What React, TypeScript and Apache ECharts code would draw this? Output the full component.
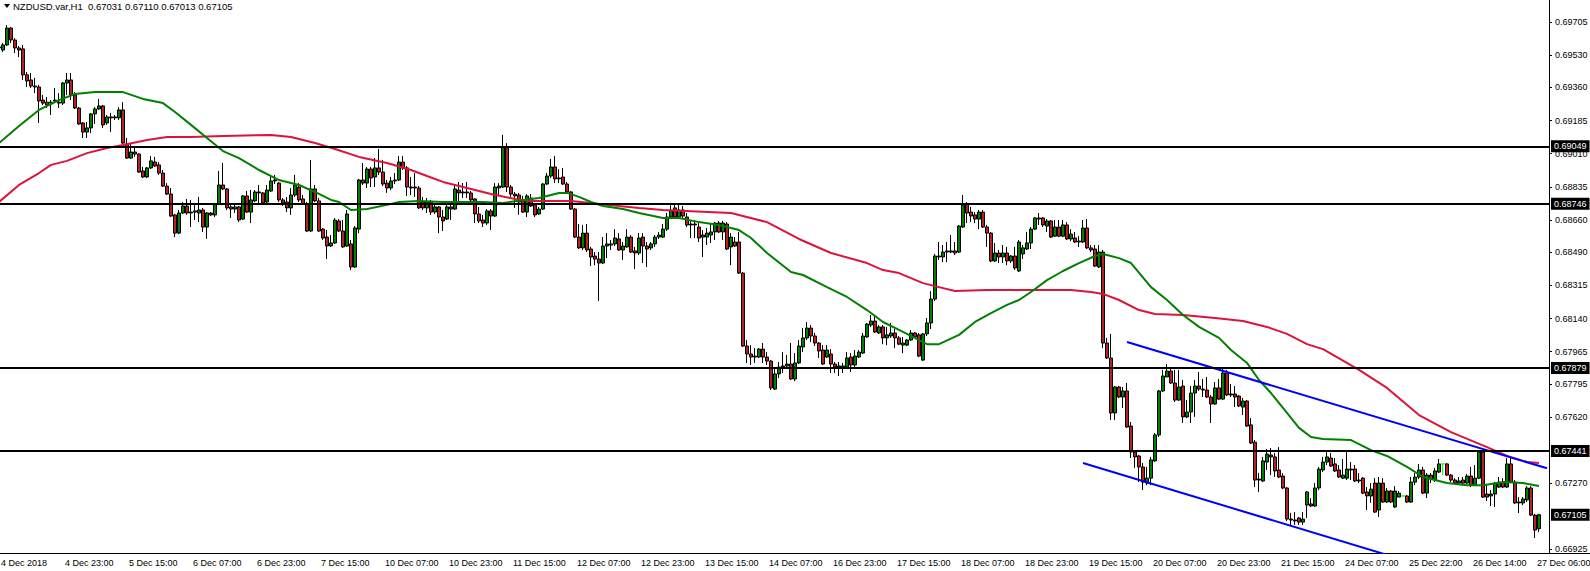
import React, { useEffect, useRef } from 'react';
import * as echarts from 'echarts';

// ---- Chart header ----
const chartTitle = 'NZDUSD.var,H1  0.67031 0.67110 0.67013 0.67105';

// ---- X tick labels (one every 16 hourly bars) ----
const timeLabels = [
  '4 Dec 2018', '4 Dec 23:00', '5 Dec 15:00', '6 Dec 07:00', '6 Dec 23:00', '7 Dec 15:00',
  '10 Dec 07:00', '10 Dec 23:00', '11 Dec 15:00', '12 Dec 07:00', '12 Dec 23:00', '13 Dec 15:00',
  '14 Dec 07:00', '16 Dec 23:00', '17 Dec 15:00', '18 Dec 07:00', '18 Dec 23:00', '19 Dec 15:00',
  '20 Dec 07:00', '20 Dec 23:00', '21 Dec 15:00', '24 Dec 07:00', '25 Dec 22:00', '26 Dec 14:00',
  '27 Dec 06:00',
];

// ---- Y tick labels ----
const priceTicks = [
  0.69705, 0.6953, 0.6936, 0.69185, 0.6901, 0.68835, 0.6866, 0.6849, 0.68315,
  0.6814, 0.67965, 0.67795, 0.6762, 0.6727, 0.66925,
];
const yMin = 0.66903;
const yMax = 0.69821;

// ---- Candles [open, close, low, high] ----
const candlesA = [
  [0.69568,0.69573,0.69557,0.69584],[0.69557,0.69584,0.69546,0.69594],[0.69584,0.69673,0.69578,0.69689],[0.69673,0.69610,0.69594,0.69678],
  [0.69610,0.69568,0.69541,0.69620],[0.69568,0.69557,0.69520,0.69578],[0.69563,0.69426,0.69399,0.69584],[0.69426,0.69394,0.69362,0.69441],
  [0.69399,0.69367,0.69357,0.69436],[0.69367,0.69362,0.69330,0.69410],[0.69362,0.69288,0.69172,0.69373],[0.69293,0.69277,0.69267,0.69320],
  [0.69282,0.69267,0.69251,0.69309],[0.69277,0.69282,0.69214,0.69293],[0.69288,0.69293,0.69277,0.69357],[0.69282,0.69277,0.69251,0.69330],
  [0.69277,0.69383,0.69267,0.69388],[0.69383,0.69399,0.69320,0.69436],[0.69399,0.69320,0.69293,0.69436],[0.69320,0.69251,0.69246,0.69335],
  [0.69251,0.69167,0.69162,0.69256],[0.69172,0.69124,0.69093,0.69177],[0.69124,0.69146,0.69093,0.69177],[0.69146,0.69220,0.69119,0.69225],
  [0.69220,0.69246,0.69167,0.69256],[0.69246,0.69262,0.69241,0.69299],[0.69262,0.69162,0.69146,0.69267],[0.69172,0.69204,0.69162,0.69214],
  [0.69204,0.69199,0.69124,0.69225],[0.69199,0.69204,0.69188,0.69214],[0.69199,0.69241,0.69188,0.69256],[0.69241,0.69066,0.69061,0.69282],
  [0.69061,0.68987,0.68982,0.69093],[0.68987,0.69019,0.68982,0.69066],[0.69019,0.69008,0.68993,0.69040],[0.69008,0.68913,0.68908,0.69013],
  [0.68919,0.68887,0.68882,0.68940],[0.68887,0.68935,0.68882,0.68940],[0.68935,0.68972,0.68929,0.68998],[0.68966,0.68945,0.68940,0.68993],
  [0.68951,0.68908,0.68898,0.68966],[0.68908,0.68839,0.68834,0.68924],[0.68839,0.68797,0.68792,0.68855],[0.68797,0.68681,0.68676,0.68829],
  [0.68687,0.68591,0.68570,0.68692],[0.68591,0.68697,0.68586,0.68713],[0.68697,0.68734,0.68692,0.68755],[0.68734,0.68697,0.68687,0.68771],
  [0.68697,0.68702,0.68623,0.68766],[0.68702,0.68708,0.68660,0.68740],[0.68697,0.68713,0.68649,0.68782],[0.68713,0.68623,0.68597,0.68724],
  [0.68623,0.68697,0.68560,0.68702],[0.68697,0.68687,0.68681,0.68702],[0.68687,0.68745,0.68676,0.68750],[0.68745,0.68845,0.68740,0.68919],
  [0.68845,0.68824,0.68818,0.68961],[0.68824,0.68724,0.68713,0.68829],[0.68729,0.68718,0.68671,0.68740],[0.68718,0.68729,0.68697,0.68745],
  [0.68729,0.68660,0.68649,0.68734],[0.68665,0.68787,0.68660,0.68792],[0.68787,0.68702,0.68697,0.68813],[0.68702,0.68766,0.68644,0.68818],
];
const candlesB = [
  [0.68761,0.68808,0.68755,0.68818],[0.68808,0.68803,0.68740,0.68845],[0.68803,0.68750,0.68745,0.68808],[0.68755,0.68818,0.68750,0.68845],
  [0.68813,0.68866,0.68808,0.68887],[0.68866,0.68871,0.68850,0.68898],[0.68855,0.68766,0.68755,0.68861],[0.68766,0.68750,0.68734,0.68776],
  [0.68755,0.68724,0.68702,0.68782],[0.68724,0.68792,0.68687,0.68829],[0.68792,0.68845,0.68782,0.68898],[0.68834,0.68766,0.68755,0.68855],
  [0.68771,0.68745,0.68740,0.68792],[0.68745,0.68602,0.68597,0.68755],[0.68602,0.68824,0.68597,0.68977],[0.68824,0.68761,0.68755,0.68845],
  [0.68761,0.68602,0.68597,0.68776],[0.68612,0.68565,0.68555,0.68618],[0.68570,0.68523,0.68454,0.68607],[0.68523,0.68539,0.68518,0.68581],
  [0.68539,0.68660,0.68534,0.68671],[0.68655,0.68602,0.68597,0.68665],[0.68602,0.68518,0.68513,0.68660],[0.68523,0.68692,0.68518,0.68713],
  [0.68534,0.68412,0.68396,0.68555],[0.68412,0.68618,0.68407,0.68628],[0.68612,0.68871,0.68591,0.68877],[0.68871,0.68855,0.68845,0.68961],
  [0.68855,0.68929,0.68829,0.68940],[0.68929,0.68882,0.68834,0.68940],[0.68887,0.68935,0.68834,0.68987],[0.68935,0.68913,0.68898,0.69035],
  [0.68913,0.68850,0.68839,0.68977],[0.68855,0.68829,0.68803,0.68871],[0.68829,0.68866,0.68818,0.68887],[0.68866,0.68871,0.68850,0.68908],
  [0.68871,0.68966,0.68866,0.68998],[0.68966,0.68935,0.68924,0.68998],[0.68935,0.68834,0.68787,0.68945],[0.68834,0.68829,0.68792,0.68887],
  [0.68829,0.68834,0.68782,0.68908],[0.68829,0.68724,0.68718,0.68839],[0.68755,0.68724,0.68713,0.68782],[0.68724,0.68755,0.68697,0.68776],
  [0.68755,0.68702,0.68687,0.68766],[0.68702,0.68729,0.68692,0.68740],[0.68729,0.68676,0.68591,0.68734],[0.68676,0.68655,0.68602,0.68713],
  [0.68665,0.68729,0.68660,0.68750],[0.68729,0.68718,0.68660,0.68740],[0.68718,0.68824,0.68713,0.68845],[0.68818,0.68803,0.68750,0.68861],
  [0.68803,0.68808,0.68776,0.68855],[0.68808,0.68803,0.68776,0.68861],[0.68803,0.68766,0.68755,0.68813],[0.68771,0.68692,0.68644,0.68776],
  [0.68692,0.68655,0.68644,0.68729],[0.68660,0.68644,0.68623,0.68687],[0.68644,0.68708,0.68634,0.68718],[0.68708,0.68681,0.68607,0.68718],
  [0.68681,0.68834,0.68676,0.68855],[0.68829,0.68839,0.68792,0.68855],[0.68834,0.69045,0.68829,0.69109],[0.69045,0.68834,0.68808,0.69066],
];
const candlesC = [
  [0.68834,0.68797,0.68782,0.68845],[0.68797,0.68787,0.68724,0.68808],[0.68792,0.68755,0.68687,0.68803],[0.68766,0.68702,0.68697,0.68787],
  [0.68702,0.68787,0.68676,0.68797],[0.68776,0.68734,0.68729,0.68797],[0.68740,0.68687,0.68676,0.68750],[0.68692,0.68718,0.68687,0.68729],
  [0.68718,0.68850,0.68713,0.68855],[0.68850,0.68892,0.68845,0.68908],[0.68892,0.68940,0.68882,0.68982],[0.68940,0.68877,0.68855,0.68998],
  [0.68877,0.68882,0.68855,0.68929],[0.68887,0.68850,0.68845,0.68935],[0.68850,0.68808,0.68803,0.68861],[0.68808,0.68718,0.68713,0.68813],
  [0.68718,0.68570,0.68565,0.68724],[0.68570,0.68513,0.68507,0.68639],[0.68513,0.68591,0.68502,0.68634],[0.68591,0.68502,0.68491,0.68639],
  [0.68507,0.68465,0.68417,0.68518],[0.68470,0.68454,0.68422,0.68491],[0.68454,0.68433,0.68233,0.68491],[0.68433,0.68523,0.68428,0.68570],
  [0.68523,0.68534,0.68459,0.68591],[0.68534,0.68528,0.68502,0.68555],[0.68534,0.68565,0.68523,0.68612],[0.68560,0.68502,0.68497,0.68591],
  [0.68502,0.68523,0.68449,0.68544],[0.68518,0.68570,0.68513,0.68612],[0.68570,0.68491,0.68486,0.68581],[0.68497,0.68486,0.68401,0.68518],
  [0.68486,0.68565,0.68475,0.68591],[0.68570,0.68523,0.68433,0.68591],[0.68523,0.68507,0.68412,0.68544],[0.68513,0.68534,0.68502,0.68544],
  [0.68534,0.68570,0.68518,0.68581],[0.68570,0.68581,0.68560,0.68597],[0.68570,0.68612,0.68565,0.68639],[0.68612,0.68676,0.68602,0.68697],
  [0.68676,0.68708,0.68671,0.68750],[0.68724,0.68676,0.68671,0.68745],[0.68676,0.68713,0.68671,0.68740],[0.68713,0.68681,0.68671,0.68734],
  [0.68676,0.68634,0.68623,0.68697],[0.68634,0.68639,0.68565,0.68660],[0.68639,0.68634,0.68565,0.68660],[0.68623,0.68565,0.68544,0.68644],
  [0.68570,0.68581,0.68465,0.68607],[0.68570,0.68591,0.68528,0.68618],[0.68581,0.68597,0.68539,0.68644],[0.68597,0.68644,0.68555,0.68649],
  [0.68644,0.68597,0.68591,0.68655],[0.68597,0.68644,0.68555,0.68655],[0.68639,0.68507,0.68502,0.68649],[0.68518,0.68570,0.68422,0.68591],
  [0.68544,0.68523,0.68518,0.68570],[0.68544,0.68380,0.68375,0.68597],[0.68380,0.67995,0.67990,0.68386],[0.67995,0.67953,0.67906,0.68027],
  [0.67953,0.67937,0.67895,0.68000],[0.67937,0.67942,0.67906,0.67984],[0.67937,0.67979,0.67932,0.67984],[0.67979,0.67937,0.67906,0.68011],
];
const candlesD = [
  [0.67937,0.67916,0.67895,0.67963],[0.67916,0.67774,0.67763,0.67921],[0.67768,0.67848,0.67763,0.67884],[0.67848,0.67884,0.67826,0.67911],
  [0.67884,0.67890,0.67853,0.67963],[0.67890,0.67900,0.67879,0.67948],[0.67900,0.67821,0.67816,0.68011],[0.67821,0.67906,0.67810,0.67958],
  [0.67906,0.67995,0.67900,0.68027],[0.67990,0.68038,0.67963,0.68090],[0.68038,0.68090,0.68027,0.68122],[0.68090,0.68048,0.68016,0.68106],
  [0.68048,0.68011,0.67995,0.68064],[0.68011,0.67969,0.67932,0.68016],[0.67974,0.67900,0.67895,0.68000],[0.67937,0.67974,0.67932,0.68000],
  [0.67953,0.67900,0.67853,0.67979],[0.67900,0.67884,0.67853,0.67911],[0.67884,0.67890,0.67837,0.67911],[0.67879,0.67890,0.67853,0.67906],
  [0.67884,0.67932,0.67879,0.67963],[0.67937,0.67895,0.67858,0.67958],[0.67895,0.67942,0.67879,0.67974],[0.67937,0.67963,0.67932,0.67974],
  [0.67958,0.68048,0.67953,0.68064],[0.68043,0.68111,0.68038,0.68117],[0.68106,0.68127,0.68096,0.68159],[0.68127,0.68069,0.68064,0.68153],
  [0.68064,0.68096,0.68059,0.68106],[0.68096,0.68038,0.68005,0.68106],[0.68038,0.68054,0.68000,0.68096],[0.68048,0.68064,0.68038,0.68117],
  [0.68064,0.68038,0.67984,0.68085],[0.68038,0.68005,0.68000,0.68048],[0.68000,0.68011,0.67958,0.68043],[0.68000,0.68027,0.67995,0.68032],
  [0.68027,0.68064,0.68022,0.68080],[0.68064,0.68043,0.68038,0.68069],[0.68054,0.67942,0.67937,0.68064],[0.67921,0.68059,0.67916,0.68064],
  [0.68059,0.68117,0.68048,0.68143],[0.68117,0.68243,0.68085,0.68285],[0.68243,0.68470,0.68233,0.68481],[0.68470,0.68465,0.68449,0.68544],
  [0.68465,0.68491,0.68438,0.68528],[0.68491,0.68497,0.68438,0.68544],[0.68497,0.68491,0.68486,0.68581],[0.68497,0.68486,0.68475,0.68544],
  [0.68491,0.68628,0.68486,0.68634],[0.68623,0.68740,0.68618,0.68792],[0.68745,0.68697,0.68644,0.68755],[0.68702,0.68681,0.68649,0.68729],
  [0.68687,0.68665,0.68644,0.68702],[0.68665,0.68702,0.68612,0.68713],[0.68702,0.68623,0.68618,0.68713],[0.68623,0.68591,0.68518,0.68634],
  [0.68591,0.68444,0.68438,0.68597],[0.68444,0.68486,0.68438,0.68539],[0.68486,0.68465,0.68433,0.68502],[0.68465,0.68486,0.68433,0.68528],
  [0.68486,0.68444,0.68422,0.68518],[0.68444,0.68470,0.68433,0.68475],[0.68470,0.68407,0.68396,0.68518],[0.68391,0.68544,0.68386,0.68555],
];
const candlesE = [
  [0.68481,0.68513,0.68454,0.68528],[0.68507,0.68539,0.68502,0.68597],[0.68539,0.68612,0.68507,0.68623],[0.68612,0.68671,0.68607,0.68676],
  [0.68671,0.68665,0.68634,0.68697],[0.68671,0.68634,0.68623,0.68676],[0.68628,0.68655,0.68597,0.68665],[0.68655,0.68570,0.68565,0.68660],
  [0.68575,0.68623,0.68570,0.68660],[0.68623,0.68575,0.68570,0.68660],[0.68575,0.68634,0.68570,0.68660],[0.68634,0.68560,0.68555,0.68649],
  [0.68560,0.68586,0.68549,0.68612],[0.68565,0.68544,0.68539,0.68597],[0.68544,0.68549,0.68518,0.68575],[0.68544,0.68618,0.68539,0.68660],
  [0.68618,0.68513,0.68507,0.68665],[0.68513,0.68502,0.68491,0.68528],[0.68507,0.68417,0.68412,0.68528],[0.68412,0.68491,0.68407,0.68528],
  [0.68491,0.68011,0.67984,0.68502],[0.68011,0.67932,0.67927,0.68038],[0.67932,0.67642,0.67605,0.68059],[0.67642,0.67779,0.67605,0.67784],
  [0.67779,0.67726,0.67721,0.67784],[0.67726,0.67758,0.67668,0.67779],[0.67758,0.67568,0.67563,0.67800],[0.67573,0.67436,0.67404,0.67594],
  [0.67436,0.67410,0.67352,0.67446],[0.67415,0.67357,0.67277,0.67420],[0.67357,0.67277,0.67235,0.67378],[0.67272,0.67298,0.67261,0.67357],
  [0.67298,0.67394,0.67261,0.67410],[0.67389,0.67526,0.67383,0.67536],[0.67526,0.67758,0.67515,0.67763],[0.67758,0.67837,0.67752,0.67869],
  [0.67832,0.67863,0.67832,0.67900],[0.67863,0.67800,0.67795,0.67884],[0.67800,0.67710,0.67700,0.67869],[0.67710,0.67779,0.67705,0.67869],
  [0.67784,0.67621,0.67589,0.67816],[0.67621,0.67647,0.67615,0.67710],[0.67647,0.67747,0.67589,0.67784],[0.67747,0.67784,0.67621,0.67816],
  [0.67784,0.67768,0.67758,0.67858],[0.67768,0.67763,0.67726,0.67821],[0.67763,0.67726,0.67721,0.67832],[0.67726,0.67689,0.67589,0.67737],
  [0.67689,0.67774,0.67684,0.67805],[0.67774,0.67715,0.67710,0.67821],[0.67715,0.67853,0.67710,0.67874],[0.67853,0.67737,0.67731,0.67869],
  [0.67737,0.67742,0.67726,0.67795],[0.67742,0.67726,0.67673,0.67784],[0.67731,0.67679,0.67673,0.67737],[0.67673,0.67705,0.67631,0.67721],
  [0.67705,0.67573,0.67568,0.67710],[0.67579,0.67483,0.67478,0.67615],[0.67488,0.67288,0.67251,0.67499],[0.67288,0.67293,0.67225,0.67325],
  [0.67283,0.67389,0.67277,0.67410],[0.67383,0.67425,0.67341,0.67452],[0.67420,0.67410,0.67314,0.67457],[0.67410,0.67336,0.67304,0.67431],
];
const candlesF = [
  [0.67341,0.67304,0.67298,0.67462],[0.67309,0.67246,0.67240,0.67325],[0.67246,0.67082,0.67072,0.67251],[0.67082,0.67077,0.67051,0.67114],
  [0.67077,0.67072,0.67051,0.67119],[0.67088,0.67066,0.67051,0.67093],[0.67066,0.67082,0.67051,0.67119],[0.67156,0.67225,0.67088,0.67230],
  [0.67162,0.67151,0.67146,0.67193],[0.67151,0.67246,0.67146,0.67272],[0.67246,0.67346,0.67235,0.67357],[0.67341,0.67383,0.67330,0.67410],
  [0.67383,0.67410,0.67367,0.67436],[0.67404,0.67362,0.67357,0.67431],[0.67373,0.67336,0.67330,0.67404],[0.67341,0.67304,0.67298,0.67367],
  [0.67298,0.67314,0.67293,0.67399],[0.67298,0.67346,0.67288,0.67436],[0.67346,0.67341,0.67288,0.67383],[0.67346,0.67283,0.67277,0.67367],
  [0.67288,0.67283,0.67272,0.67325],[0.67298,0.67219,0.67214,0.67304],[0.67225,0.67204,0.67130,0.67251],[0.67204,0.67240,0.67167,0.67272],
  [0.67272,0.67119,0.67114,0.67298],[0.67130,0.67272,0.67093,0.67304],[0.67272,0.67172,0.67167,0.67298],[0.67172,0.67230,0.67167,0.67246],
  [0.67230,0.67172,0.67167,0.67235],[0.67146,0.67230,0.67140,0.67256],[0.67198,0.67219,0.67198,0.67230],[0.67204,0.67204,0.67204,0.67204],
  [0.67204,0.67172,0.67167,0.67209],[0.67172,0.67277,0.67167,0.67304],[0.67277,0.67304,0.67261,0.67325],[0.67304,0.67341,0.67293,0.67373],
  [0.67341,0.67219,0.67214,0.67357],[0.67219,0.67314,0.67193,0.67325],[0.67314,0.67293,0.67272,0.67325],[0.67288,0.67336,0.67277,0.67352],
  [0.67330,0.67373,0.67325,0.67399],[0.67373,0.67373,0.67314,0.67373],[0.67373,0.67314,0.67309,0.67378],[0.67314,0.67288,0.67277,0.67320],
  [0.67288,0.67272,0.67267,0.67298],[0.67272,0.67283,0.67267,0.67304],[0.67288,0.67272,0.67267,0.67304],[0.67272,0.67309,0.67267,0.67320],
  [0.67309,0.67261,0.67251,0.67357],[0.67261,0.67298,0.67256,0.67367],[0.67298,0.67436,0.67293,0.67446],[0.67436,0.67198,0.67193,0.67446],
  [0.67214,0.67198,0.67177,0.67261],[0.67204,0.67214,0.67151,0.67235],[0.67214,0.67272,0.67146,0.67277],[0.67251,0.67277,0.67246,0.67304],
  [0.67277,0.67251,0.67246,0.67298],[0.67251,0.67373,0.67246,0.67404],[0.67373,0.67277,0.67272,0.67404],[0.67277,0.67167,0.67162,0.67288],
  [0.67167,0.67172,0.67114,0.67198],[0.67167,0.67188,0.67156,0.67198],[0.67183,0.67246,0.67172,0.67256],[0.67246,0.67103,0.67098,0.67256],
  [0.67103,0.67024,0.66982,0.67109],[0.67031,0.67105,0.67013,0.67110],
];

// ---- Moving averages [barIndex, price] ----
const maGreen = [
  [0,0.69066],[5,0.69156],[10,0.69241],[15,0.69293],[19,0.69325],[24,0.69335],[31,0.69335],[36,0.69299],[41,0.69277],
  [44,0.69230],[48,0.69162],[52,0.69093],[56,0.69024],[60,0.68987],[65,0.68924],[70,0.68871],[75,0.68845],[79,0.68808],
  [83,0.68766],[85,0.68755],[88,0.68713],[92,0.68718],[97,0.68740],[100,0.68755],[105,0.68761],[111,0.68755],[121,0.68755],
  [126,0.68750],[131,0.68766],[135,0.68776],[138,0.68792],[140,0.68803],[142,0.68803],[145,0.68782],[148,0.68755],[151,0.68734],
  [156,0.68718],[160,0.68697],[166,0.68671],[170,0.68671],[175,0.68649],[180,0.68634],[185,0.68607],[188,0.68565],[192,0.68486],
  [198,0.68386],[201,0.68370],[207,0.68306],[212,0.68254],[217,0.68185],[221,0.68122],[225,0.68080],[232,0.68005],[235,0.68005],
  [240,0.68054],[244,0.68122],[248,0.68169],[252,0.68212],[255,0.68238],[258,0.68280],[262,0.68343],[266,0.68391],[270,0.68433],
  [274,0.68470],[276,0.68481],[280,0.68459],[283,0.68433],[288,0.68306],[292,0.68238],[296,0.68159],[300,0.68096],[305,0.68038],
  [308,0.67974],[312,0.67906],[315,0.67816],[318,0.67747],[322,0.67642],[325,0.67563],[328,0.67515],[331,0.67504],[338,0.67499],
  [343,0.67446],[347,0.67415],[352,0.67357],[356,0.67304],[362,0.67272],[367,0.67261],[371,0.67261],[376,0.67277],[381,0.67272],
  [385,0.67256],
];
const maRed = [
  [0,0.68755],[5,0.68845],[10,0.68908],[13,0.68951],[17,0.68972],[22,0.69013],[27,0.69040],[31,0.69056],[37,0.69082],
  [42,0.69098],[48,0.69098],[56,0.69103],[68,0.69109],[73,0.69098],[79,0.69066],[84,0.69035],[90,0.68993],[97,0.68961],
  [103,0.68924],[107,0.68892],[111,0.68861],[117,0.68829],[123,0.68797],[129,0.68771],[133,0.68761],[143,0.68761],[148,0.68750],
  [155,0.68734],[160,0.68724],[166,0.68713],[183,0.68697],[192,0.68649],[200,0.68560],[208,0.68486],[217,0.68433],[221,0.68396],
  [225,0.68380],[231,0.68327],[235,0.68306],[239,0.68285],[247,0.68291],[259,0.68291],[268,0.68291],[273,0.68280],[276,0.68270],
  [280,0.68238],[285,0.68185],[289,0.68164],[296,0.68159],[304,0.68143],[311,0.68127],[317,0.68096],[322,0.68059],[327,0.68005],
  [331,0.67979],[340,0.67869],[347,0.67774],[355,0.67631],[363,0.67541],[372,0.67462],[377,0.67415],[382,0.67383],[385,0.67378],
];

// ---- Drawn objects ----
const levels = [0.69049, 0.68746, 0.67879, 0.67441];
const lastPrice = 0.67105;
const upperTrend = [[282, 0.68016], [387, 0.6735]];
const lowerTrend = [[271, 0.67378], [360, 0.6681]];

const FONT = "'Liberation Sans', Arial, sans-serif";

export default function App() {
  const ref = useRef<HTMLDivElement>(null);

  useEffect(() => {
    if (!ref.current) return;
    const chart = echarts.init(ref.current, null, { renderer: 'svg' });
    const candles = [...candlesA, ...candlesB, ...candlesC, ...candlesD, ...candlesE, ...candlesF];
    const categories = Array.from({ length: candles.length + 2 }, (_, i) => String(i));
    const isTick = (i: number) => i % 16 === 0 && i / 16 < timeLabels.length;

    chart.setOption({
      animation: false,
      backgroundColor: '#ffffff',
      title: {
        text: chartTitle,
        left: 13,
        top: 1,
        padding: 0,
        textStyle: { fontSize: 9.5, fontWeight: 'normal', color: '#000', fontFamily: FONT },
      },
      graphic: [
        { type: 'polygon', shape: { points: [[4, 4], [10, 4], [7, 8]] }, style: { fill: '#000' } },
        { type: 'line', shape: { x1: 1549, y1: 553.5, x2: 1590, y2: 553.5 }, style: { stroke: '#000', lineWidth: 1 } },
      ],
      grid: { left: -3, right: 41, top: 0, bottom: 18, outerBoundsMode: 'none', containLabel: false },
      xAxis: {
        type: 'category',
        data: categories,
        boundaryGap: true,
        axisLine: { lineStyle: { color: '#000', width: 1 } },
        axisTick: {
          alignWithLabel: true,
          interval: (i: number) => isTick(i) && i > 0,
          length: 4,
          lineStyle: { color: '#000' },
        },
        axisLabel: {
          interval: (i: number) => isTick(i),
          formatter: (_v: string, i: number) => timeLabels[i / 16] ?? '',
          align: 'left',
          margin: 5,
          padding: [0, 0, 0, 2],
          fontSize: 9,
          color: '#000',
          fontFamily: FONT,
          hideOverlap: false,
        },
        splitLine: { show: false },
      },
      yAxis: {
        type: 'value',
        position: 'right',
        min: yMin,
        max: yMax,
        axisLine: { show: true, lineStyle: { color: '#000', width: 1 } },
        axisTick: { show: true, inside: false, length: 3, customValues: priceTicks, lineStyle: { color: '#000' } },
        axisLabel: {
          customValues: priceTicks,
          formatter: (v: number) => v.toFixed(5),
          margin: 6,
          fontSize: 9,
          color: '#000',
          fontFamily: FONT,
        },
        splitLine: { show: false },
      },
      series: [
        {
          type: 'candlestick',
          data: candles,
          barWidth: 3,
          itemStyle: {
            color: '#008000',
            color0: '#b22222',
            borderColor: '#000',
            borderColor0: '#000',
            borderColorDoji: '#00ff00',
            borderWidth: 1,
          },
        },
        {
          type: 'line',
          data: maRed,
          symbol: 'none',
          lineStyle: { color: '#dc143c', width: 2 },
          z: 3,
        },
        {
          type: 'line',
          data: maGreen,
          symbol: 'none',
          lineStyle: { color: '#008000', width: 2 },
          z: 3,
        },
        {
          type: 'line',
          data: lowerTrend,
          symbol: 'none',
          clip: true,
          lineStyle: { color: '#0000ff', width: 2 },
          z: 4,
        },
        {
          type: 'line',
          data: upperTrend,
          symbol: 'none',
          clip: true,
          lineStyle: { color: '#0000ff', width: 2 },
          z: 4,
          markLine: {
            symbol: ['none', 'none'],
            silent: true,
            precision: 5,
            label: {
              show: true,
              position: 'end',
              distance: 2,
              formatter: (p: any) => Number(p.value).toFixed(5),
              color: '#fff',
              backgroundColor: '#000',
              padding: [2, 3, 1, 3],
              fontSize: 9,
              fontFamily: FONT,
            },
            lineStyle: { color: '#000', width: 2, type: 'solid' },
            data: [
              ...levels.map((v) => ({ yAxis: v })),
              { yAxis: lastPrice, lineStyle: { color: 'rgba(0,0,0,0)', width: 0 } },
            ],
          },
        },
      ],
    });

    return () => chart.dispose();
  }, []);

  return (
    <div
      ref={ref}
      style={{ position: 'absolute', left: 0, top: 0, width: 1590, height: 571, background: '#fff' }}
    />
  );
}
